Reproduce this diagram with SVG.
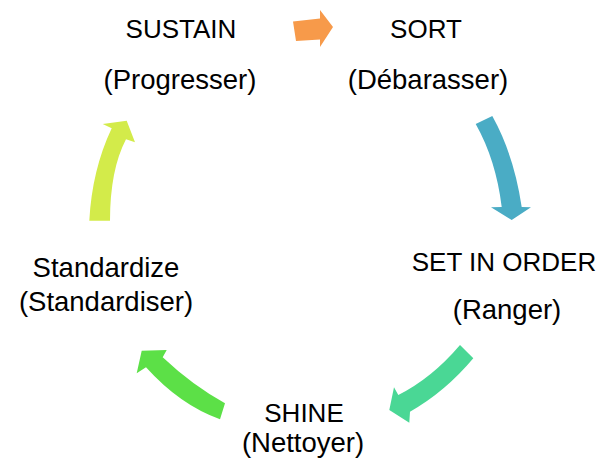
<svg xmlns="http://www.w3.org/2000/svg" width="609" height="463" viewBox="0 0 609 463">
<style>
text{font-family:"Liberation Sans",Arial,sans-serif;font-size:27.5px;fill:#000;text-anchor:middle}
text.caps{font-size:26px}
</style>
<rect width="609" height="463" fill="#fff"/>
<g id="connectors">
<polygon fill="#F79A4A" points="293,21.5 320,18.5 320,10 333,27 320,47 320,39.5 296,41"/>
<path fill="#4AACC5" d="M475.7,124 L492.3,116 Q514,155 521.7,207 L531,207.3 L511.7,220 L491,207.3 L501.7,207 Q496,160 475.7,124 Z"/>
<path fill="#4AD795" d="M460,345 L473.3,358.3 Q445,392 410,411.7 L409.3,422.7 L389.3,410 L394,387.3 L398.3,395 Q432,378 460,345 Z"/>
<path fill="#5CE047" d="M225,403.3 L220,419.3 Q180,405 146,367.3 L136.7,373.3 L141.7,350.7 L166.7,350 L162.7,357.3 Q192,385 225,403.3 Z"/>
<path fill="#D3EB4A" d="M89.3,220.7 L110,220.7 Q110,170 126,139.3 L135,142.3 L126.7,120.7 L102.7,124 L111.7,128.3 Q92,170 89.3,220.7 Z"/>
</g>
<g id="sustain"><text class="caps" x="181" y="38">SUSTAIN</text><text x="180" y="89">(Progresser)</text></g>
<g id="sort"><text class="caps" x="426" y="38">SORT</text><text x="428" y="89">(Débarasser)</text></g>
<g id="setinorder"><text class="caps" x="504" y="271">SET IN ORDER</text><text x="507" y="319">(Ranger)</text></g>
<g id="shine"><text class="caps" x="304" y="422">SHINE</text><text x="303" y="452">(Nettoyer)</text></g>
<g id="standardize"><text x="106" y="277">Standardize</text><text x="106" y="311">(Standardiser)</text></g>
</svg>
